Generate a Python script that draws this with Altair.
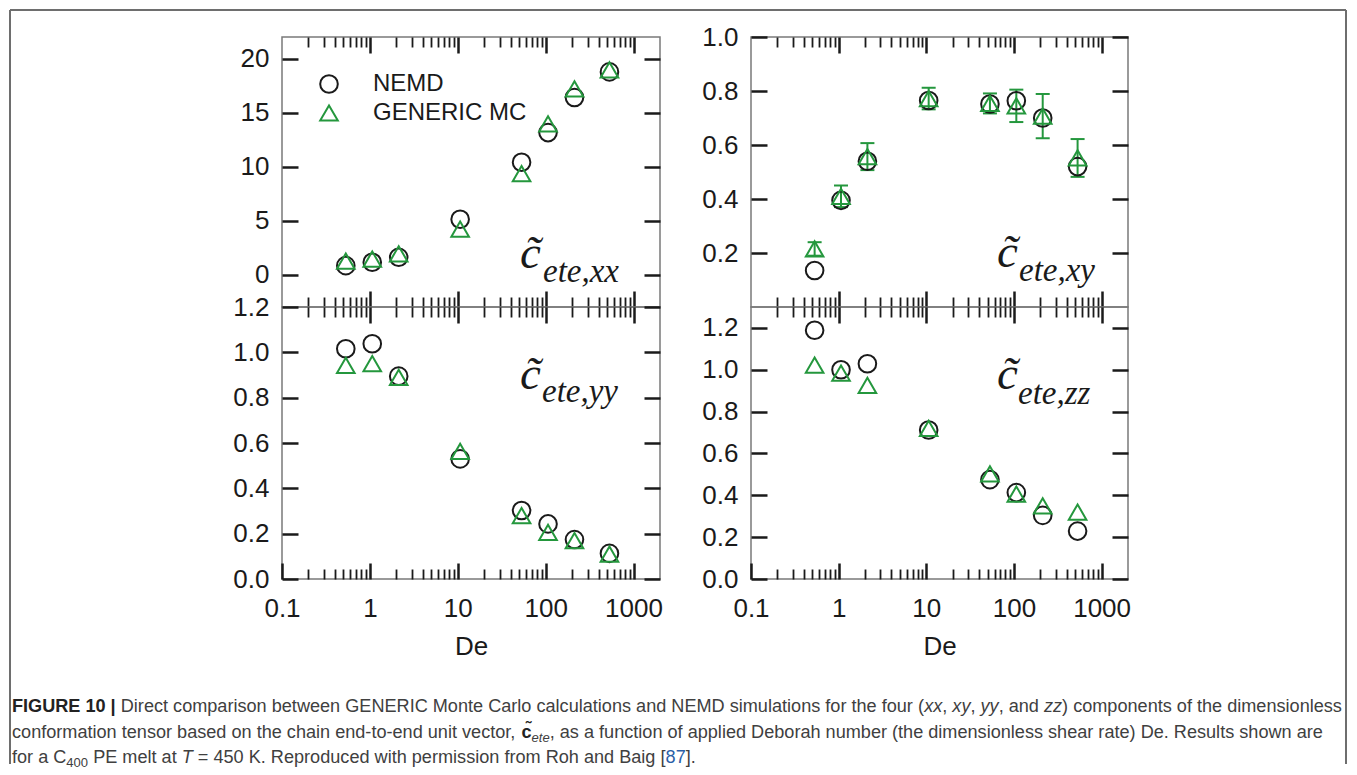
import altair as alt
import pandas as pd

# ---------------- data ----------------
DE = [0.532, 1.064, 2.128, 10.64, 53.2, 106.4, 212.8, 532.0]
SERIES = ["NEMD", "GENERIC MC"]

XX_NEMD = [0.83, 1.14, 1.60, 5.12, 10.4, 13.15, 16.4, 18.77]
XX_GEN = [1.25, 1.44, 1.93, 4.2, 9.35, 13.95, 17.2, 18.95]

XY_NEMD = [0.135, 0.395, 0.54, 0.765, 0.752, 0.764, 0.70, 0.52]
XY_GEN = [0.215, 0.41, 0.557, 0.772, 0.754, 0.745, 0.707, 0.552]
XY_GEN_ERR = [0.025, 0.04, 0.05, 0.04, 0.037, 0.06, 0.082, 0.07]

YY_NEMD = [1.016, 1.038, 0.895, 0.53, 0.302, 0.243, 0.174, 0.113]
YY_GEN = [0.943, 0.95, 0.89, 0.563, 0.28, 0.206, 0.169, 0.11]

ZZ_NEMD = [1.189, 1.0, 1.029, 0.712, 0.475, 0.413, 0.304, 0.229]
ZZ_GEN = [1.022, 0.984, 0.925, 0.72, 0.502, 0.406, 0.35, 0.32]

X_LABELS = [0.1, 1, 10, 100, 1000]
X_MAJOR = [1, 10, 100, 1000]
X_MINOR = [0.2, 0.3, 0.4, 0.5, 0.6, 0.7, 0.8, 0.9,
           2, 3, 4, 5, 6, 7, 8, 9,
           20, 30, 40, 50, 60, 70, 80, 90,
           200, 300, 400, 500, 600, 700, 800, 900]
Y_XX = [0, 5, 10, 15, 20]
Y_XY = [0.2, 0.4, 0.6, 0.8, 1.0]
Y_YY = [0.0, 0.2, 0.4, 0.6, 0.8, 1.0, 1.2]
Y_ZZ = [0.0, 0.2, 0.4, 0.6, 0.8, 1.0, 1.2]

CAP1 = [("FIGURE 10 |", "b"),
        (" Direct comparison between GENERIC Monte Carlo calculations and NEMD simulations for the four (", "r"),
        ("xx", "i"), (", ", "r"), ("xy", "i"), (", ", "r"), ("yy", "i"), (", and ", "r"), ("zz", "i"),
        (") components of the dimensionless", "r")]
CAP2 = [("conformation tensor based on the chain end-to-end unit vector, ", "r"), ("c\u0303", "b"), ("ete", "isub"),
        (", as a function of applied Deborah number (the dimensionless shear rate) De. Results shown are", "r")]
CAP3 = [("for a C", "r"), ("400", "sub"), (" PE melt at ", "r"), ("T", "i"),
        (" = 450 K. Reproduced with permission from Roh and Baig [", "r"), ("87", "link"), ("].", "r")]

# ---------------- styling ----------------
FONT = "Liberation Sans"
SERIF = "Liberation Serif"
INK = "#1a1a1a"
GREEN = "#24973d"
FRAME = "#6e6e6e"
CAPCOL = "#404040"
W_L, W_R = 378, 377
H_T, H_B = 270, 272
XS = alt.Scale(type="log", domain=[0.1, 2000], nice=False)

REG = dict(zip("ABCDEFGHIJKLMNOPQRSTUVWXYZ",
               [667, 667, 722, 722, 667, 611, 778, 722, 278, 500, 667, 556, 833, 722, 778, 667, 778, 722, 667, 611,
                722, 667, 944, 667, 667, 611]))
REG.update(dict(zip("abcdefghijklmnopqrstuvwxyz",
                    [556, 556, 500, 556, 556, 278, 556, 556, 222, 222, 500, 222, 833, 556, 556, 556, 556, 333, 500,
                     278, 556, 500, 722, 500, 500, 500])))
REG.update({" ": 278, "(": 333, ")": 333, ",": 278, ".": 278, "-": 333, "|": 260, "[": 278, "]": 278, "=": 584,
            "\u0303": 0})
REG.update({d: 556 for d in "0123456789"})
BOLD = dict(REG)
BOLD.update({"A": 722, "B": 722, "c": 556, "|": 280, "R": 722, "U": 722})


def text_w(s, size, bold=False):
    tbl = BOLD if bold else REG
    return sum(tbl.get(ch, 556) for ch in s) / 1000.0 * size


def xaxis(orient, size, values, width, labels=False, title=None):
    kw = dict(orient=orient, offset=-size, tickSize=size, tickWidth=width, tickColor=INK, values=values,
              domain=False, grid=False, labels=labels, title=title)
    if labels:
        kw.update(format="~g", labelFont=FONT, labelFontSize=26, labelColor=INK, labelPadding=16,
                  labelFlush=False, labelOverlap=False)
    if title:
        kw.update(titleFont=FONT, titleFontSize=26, titleFontWeight="normal", titleColor=INK,
                  titleY=91, titleBaseline="alphabetic")
    return alt.Axis(**kw)


def yaxis(orient, values, fmt=None, labels=False):
    kw = dict(orient=orient, offset=-16, tickSize=16, tickWidth=2.5, tickColor=INK, values=values,
              domain=False, grid=False, labels=labels, title=None)
    if labels:
        kw.update(format=fmt, labelFont=FONT, labelFontSize=26, labelColor=INK, labelPadding=13,
                  labelFlush=False, labelOverlap=False)
    return alt.Axis(**kw)


ONE = alt.Chart(pd.DataFrame({"k": [0]}))


def txt(text, x, y, **kw):
    return ONE.mark_text(text=text, align="left", baseline="alphabetic", **kw).encode(
        x=alt.value(x), y=alt.value(y))


def panel(nemd, gen, ydom, yvals, yfmt, W, H, bottom, sub, cpos, spos, legend=False, err=None, extra=()):
    df = pd.DataFrame({"De": DE + DE, "val": nemd + gen,
                       "series": [SERIES[0]] * len(DE) + [SERIES[1]] * len(DE)})
    base = alt.Chart(df)
    ys = alt.Scale(domain=ydom, nice=False, zero=False)
    leg = None
    if legend:
        leg = alt.Legend(orient="none", legendX=35, legendY=35, title=None, direction="vertical",
                         labelFont=FONT, labelFontSize=24, labelColor=INK, labelOffset=32,
                         symbolSize=310, symbolStrokeWidth=2, rowPadding=4, padding=0, labelLimit=400)
    bmaj = xaxis("bottom", 16, X_LABELS if bottom else X_MAJOR, 2.5, labels=bottom,
                 title="De" if bottom else None)
    layers = [
        base.mark_point(opacity=0).encode(
            x=alt.X("De:Q", scale=XS, axis=xaxis("bottom", 10, X_MINOR, 1.8)),
            y=alt.Y("val:Q", scale=ys, axis=yaxis("right", yvals))),
        base.mark_point(opacity=0).encode(
            x=alt.X("De:Q", scale=XS, axis=xaxis("top", 16, X_MAJOR, 2.5)),
            y=alt.Y("val:Q", scale=ys, axis=None)),
        base.mark_point(opacity=0).encode(
            x=alt.X("De:Q", scale=XS, axis=xaxis("top", 10, X_MINOR, 1.8)),
            y=alt.Y("val:Q", scale=ys, axis=None)),
    ]
    if err is not None:
        edf = pd.DataFrame({"De": DE, "lo": [g - e for g, e in zip(gen, err)],
                            "hi": [g + e for g, e in zip(gen, err)]})
        eb = alt.Chart(edf)
        layers += [
            eb.mark_rule(color=GREEN, strokeWidth=2).encode(
                x=alt.X("De:Q", scale=XS, axis=None), y=alt.Y("lo:Q", scale=ys, axis=None), y2="hi:Q"),
            eb.mark_tick(orient="horizontal", size=14, thickness=2, color=GREEN, opacity=1).encode(
                x=alt.X("De:Q", scale=XS, axis=None), y=alt.Y("lo:Q", scale=ys, axis=None)),
            eb.mark_tick(orient="horizontal", size=14, thickness=2, color=GREEN, opacity=1).encode(
                x=alt.X("De:Q", scale=XS, axis=None), y=alt.Y("hi:Q", scale=ys, axis=None)),
        ]
    layers.append(
        base.mark_point(filled=False, strokeWidth=2, size=310, opacity=1).encode(
            x=alt.X("De:Q", scale=XS, axis=bmaj),
            y=alt.Y("val:Q", scale=ys, axis=yaxis("left", yvals, yfmt, labels=True)),
            color=alt.Color("series:N", scale=alt.Scale(domain=SERIES, range=[INK, GREEN]), legend=leg),
            shape=alt.Shape("series:N", scale=alt.Scale(domain=SERIES, range=["circle", "triangle-up"]),
                            legend=leg),
            order=alt.Order("series:N", sort="descending")))
    layers.append(txt("c\u0303", cpos[0], cpos[1], font=SERIF, fontStyle="italic", fontSize=47, color=INK))
    layers.append(txt("ete," + sub, spos[0], spos[1], font=SERIF, fontStyle="italic", fontSize=33, color=INK))
    layers += list(extra)
    return alt.layer(*layers).resolve_axis(x="independent", y="independent").properties(width=W, height=H)


# ---------------- frame + caption (placed relative to the top-left panel) ----------------
extras = [
    ONE.mark_rule(color=FRAME, strokeWidth=2).encode(x=alt.value(-272), x2=alt.value(1064), y=alt.value(-27)),
    ONE.mark_rule(color=FRAME, strokeWidth=2).encode(x=alt.value(-272), y=alt.value(-27), y2=alt.value(727)),
    ONE.mark_rule(color=FRAME, strokeWidth=2).encode(x=alt.value(1064), y=alt.value(-27), y2=alt.value(727)),
]
line1_em = sum(text_w(t, 1.0, s == "b") for t, s in CAP1)
CAP_SIZE = 1330.0 / line1_em
X0 = -270
for line, yb in zip([CAP1, CAP2, CAP3], [675, 701, 726]):
    x = X0
    for t, st in line:
        fs = CAP_SIZE * 0.72 if "sub" in st else CAP_SIZE
        bold = st == "b"
        lead = len(t) - len(t.lstrip(" "))
        core = t.strip(" ")
        extras.append(txt(core, x + lead * 0.278 * fs, yb + (4 if "sub" in st else 0),
                          font=FONT, fontSize=fs, fontWeight="bold" if bold else "normal",
                          fontStyle="italic" if st in ("i", "isub") else "normal",
                          color="#2a5fa8" if st == "link" else ("#222222" if bold else CAPCOL)))
        x += text_w(t, fs, bold)

TL = panel(XX_NEMD, XX_GEN, [-3, 22], Y_XX, "d", W_L, H_T, False, "xx", (238, 231), (261, 245),
           legend=True, extra=extras)
TR = panel(XY_NEMD, XY_GEN, [0, 1.0], Y_XY, ".1f", W_R, H_T, False, "xy", (246, 230), (268, 244),
           err=XY_GEN_ERR)
BL = panel(YY_NEMD, YY_GEN, [0, 1.2], Y_YY, ".1f", W_L, H_B, True, "yy", (238, 82), (260, 95))
BR = panel(ZZ_NEMD, ZZ_GEN, [0, 1.3], Y_ZZ, ".1f", W_R, H_B, True, "zz", (246, 82), (267, 97))

chart = alt.concat(TL, TR, BL, BR, columns=2, spacing=alt.RowColnumber(row=0, column=91),
                   bounds="flush", padding=0).resolve_scale(
    color="independent", shape="independent").configure_view(stroke="#7a7a7a", strokeWidth=1.5)

chart.save("out.html", embed_options={"renderer": "svg", "actions": False})
